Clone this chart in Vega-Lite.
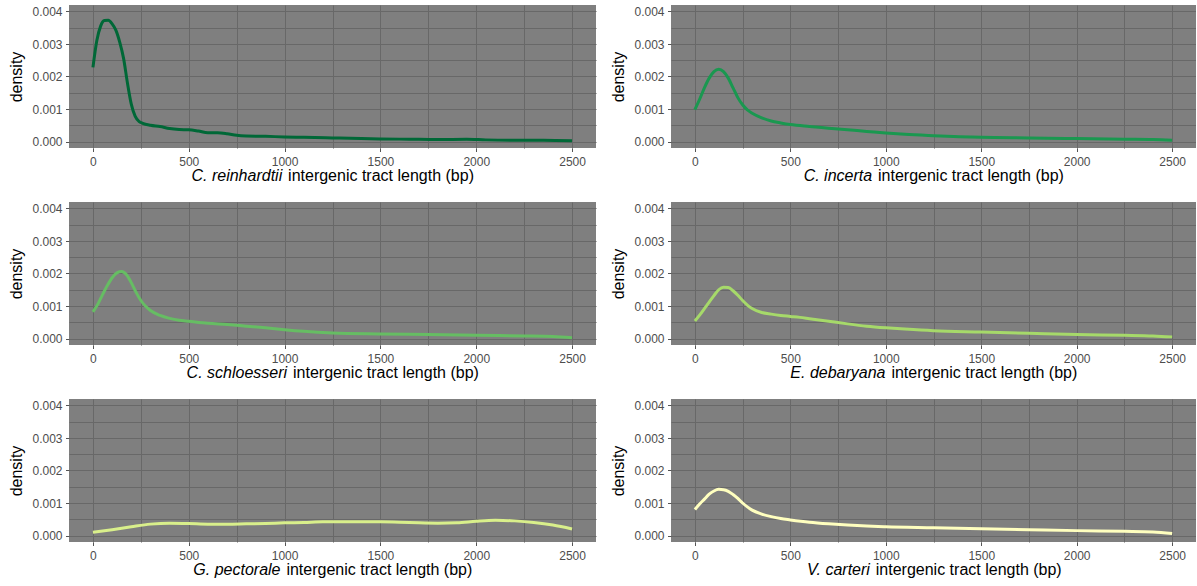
{
  "$schema": "https://vega.github.io/schema/vega-lite/v6.json",
  "background": "white",
  "padding": {"left": 8, "top": 5, "right": 0, "bottom": 0},
  "data": {"values": [
    {"sp":"Cr","x":0,"d":0.00228},{"sp":"Cr","x":20,"d":0.00310},{"sp":"Cr","x":40,"d":0.00355},{"sp":"Cr","x":60,"d":0.00372},{"sp":"Cr","x":80,"d":0.00373},{"sp":"Cr","x":100,"d":0.00362},{"sp":"Cr","x":120,"d":0.00342},{"sp":"Cr","x":140,"d":0.00305},{"sp":"Cr","x":160,"d":0.00255},{"sp":"Cr","x":180,"d":0.00180},{"sp":"Cr","x":200,"d":0.00115},{"sp":"Cr","x":220,"d":0.00078},{"sp":"Cr","x":240,"d":0.00062},{"sp":"Cr","x":260,"d":0.00056},{"sp":"Cr","x":300,"d":0.00050},{"sp":"Cr","x":350,"d":0.00046},{"sp":"Cr","x":400,"d":0.00040},{"sp":"Cr","x":450,"d":0.00037},{"sp":"Cr","x":500,"d":0.00036},{"sp":"Cr","x":550,"d":0.00032},{"sp":"Cr","x":600,"d":0.00027},{"sp":"Cr","x":650,"d":0.00027},{"sp":"Cr","x":700,"d":0.00024},{"sp":"Cr","x":750,"d":0.00019},{"sp":"Cr","x":800,"d":0.00017},{"sp":"Cr","x":900,"d":0.00016},{"sp":"Cr","x":1000,"d":0.00014},{"sp":"Cr","x":1100,"d":0.00013},{"sp":"Cr","x":1250,"d":0.00011},{"sp":"Cr","x":1400,"d":0.00009},{"sp":"Cr","x":1500,"d":0.00008},{"sp":"Cr","x":1650,"d":0.00007},{"sp":"Cr","x":1800,"d":0.00006},{"sp":"Cr","x":1950,"d":0.00007},{"sp":"Cr","x":2050,"d":0.00005},{"sp":"Cr","x":2200,"d":0.00004},{"sp":"Cr","x":2350,"d":0.00004},{"sp":"Cr","x":2500,"d":0.00002},

    {"sp":"Ci","x":0,"d":0.00098},{"sp":"Ci","x":25,"d":0.00130},{"sp":"Ci","x":50,"d":0.00165},{"sp":"Ci","x":75,"d":0.00195},{"sp":"Ci","x":100,"d":0.00215},{"sp":"Ci","x":125,"d":0.00222},{"sp":"Ci","x":150,"d":0.00215},{"sp":"Ci","x":175,"d":0.00195},{"sp":"Ci","x":200,"d":0.00165},{"sp":"Ci","x":225,"d":0.00135},{"sp":"Ci","x":250,"d":0.00113},{"sp":"Ci","x":275,"d":0.00097},{"sp":"Ci","x":300,"d":0.00087},{"sp":"Ci","x":350,"d":0.00073},{"sp":"Ci","x":400,"d":0.00063},{"sp":"Ci","x":450,"d":0.00057},{"sp":"Ci","x":500,"d":0.00052},{"sp":"Ci","x":600,"d":0.00046},{"sp":"Ci","x":700,"d":0.00041},{"sp":"Ci","x":800,"d":0.00036},{"sp":"Ci","x":900,"d":0.00031},{"sp":"Ci","x":1000,"d":0.00026},{"sp":"Ci","x":1100,"d":0.00022},{"sp":"Ci","x":1250,"d":0.00018},{"sp":"Ci","x":1500,"d":0.00013},{"sp":"Ci","x":1750,"d":0.00011},{"sp":"Ci","x":2000,"d":0.00009},{"sp":"Ci","x":2250,"d":0.00007},{"sp":"Ci","x":2400,"d":0.00006},{"sp":"Ci","x":2500,"d":0.00004},

    {"sp":"Cs","x":0,"d":0.00082},{"sp":"Cs","x":25,"d":0.00105},{"sp":"Cs","x":50,"d":0.00135},{"sp":"Cs","x":75,"d":0.00163},{"sp":"Cs","x":100,"d":0.00187},{"sp":"Cs","x":125,"d":0.00202},{"sp":"Cs","x":150,"d":0.00206},{"sp":"Cs","x":175,"d":0.00196},{"sp":"Cs","x":200,"d":0.00172},{"sp":"Cs","x":225,"d":0.00142},{"sp":"Cs","x":250,"d":0.00117},{"sp":"Cs","x":275,"d":0.00099},{"sp":"Cs","x":300,"d":0.00086},{"sp":"Cs","x":350,"d":0.00071},{"sp":"Cs","x":400,"d":0.00062},{"sp":"Cs","x":450,"d":0.00056},{"sp":"Cs","x":500,"d":0.00053},{"sp":"Cs","x":600,"d":0.00047},{"sp":"Cs","x":700,"d":0.00043},{"sp":"Cs","x":800,"d":0.00038},{"sp":"Cs","x":900,"d":0.00033},{"sp":"Cs","x":1000,"d":0.00027},{"sp":"Cs","x":1100,"d":0.00022},{"sp":"Cs","x":1250,"d":0.00017},{"sp":"Cs","x":1500,"d":0.00014},{"sp":"Cs","x":1750,"d":0.00012},{"sp":"Cs","x":2000,"d":0.00010},{"sp":"Cs","x":2250,"d":0.00008},{"sp":"Cs","x":2400,"d":0.00006},{"sp":"Cs","x":2500,"d":0.00002},

    {"sp":"Ed","x":0,"d":0.00054},{"sp":"Ed","x":25,"d":0.00072},{"sp":"Ed","x":50,"d":0.00092},{"sp":"Ed","x":75,"d":0.00112},{"sp":"Ed","x":100,"d":0.00132},{"sp":"Ed","x":125,"d":0.00150},{"sp":"Ed","x":150,"d":0.00158},{"sp":"Ed","x":175,"d":0.00157},{"sp":"Ed","x":200,"d":0.00147},{"sp":"Ed","x":225,"d":0.00133},{"sp":"Ed","x":250,"d":0.00117},{"sp":"Ed","x":275,"d":0.00103},{"sp":"Ed","x":300,"d":0.00092},{"sp":"Ed","x":350,"d":0.00080},{"sp":"Ed","x":400,"d":0.00075},{"sp":"Ed","x":450,"d":0.00071},{"sp":"Ed","x":500,"d":0.00068},{"sp":"Ed","x":550,"d":0.00065},{"sp":"Ed","x":600,"d":0.00061},{"sp":"Ed","x":700,"d":0.00053},{"sp":"Ed","x":800,"d":0.00045},{"sp":"Ed","x":900,"d":0.00038},{"sp":"Ed","x":1000,"d":0.00033},{"sp":"Ed","x":1100,"d":0.00029},{"sp":"Ed","x":1250,"d":0.00024},{"sp":"Ed","x":1500,"d":0.00020},{"sp":"Ed","x":1750,"d":0.00016},{"sp":"Ed","x":2000,"d":0.00012},{"sp":"Ed","x":2250,"d":0.00010},{"sp":"Ed","x":2400,"d":0.00008},{"sp":"Ed","x":2500,"d":0.00005},

    {"sp":"Gp","x":0,"d":0.00010},{"sp":"Gp","x":100,"d":0.00018},{"sp":"Gp","x":200,"d":0.00027},{"sp":"Gp","x":300,"d":0.00035},{"sp":"Gp","x":400,"d":0.00038},{"sp":"Gp","x":500,"d":0.00037},{"sp":"Gp","x":600,"d":0.00035},{"sp":"Gp","x":700,"d":0.00035},{"sp":"Gp","x":800,"d":0.00036},{"sp":"Gp","x":900,"d":0.00037},{"sp":"Gp","x":1000,"d":0.00039},{"sp":"Gp","x":1100,"d":0.00040},{"sp":"Gp","x":1200,"d":0.00042},{"sp":"Gp","x":1300,"d":0.00042},{"sp":"Gp","x":1400,"d":0.00042},{"sp":"Gp","x":1500,"d":0.00042},{"sp":"Gp","x":1600,"d":0.00041},{"sp":"Gp","x":1700,"d":0.00039},{"sp":"Gp","x":1800,"d":0.00038},{"sp":"Gp","x":1900,"d":0.00039},{"sp":"Gp","x":2000,"d":0.00044},{"sp":"Gp","x":2100,"d":0.00047},{"sp":"Gp","x":2200,"d":0.00045},{"sp":"Gp","x":2300,"d":0.00040},{"sp":"Gp","x":2400,"d":0.00032},{"sp":"Gp","x":2500,"d":0.00020},

    {"sp":"Vc","x":0,"d":0.00080},{"sp":"Vc","x":25,"d":0.00097},{"sp":"Vc","x":50,"d":0.00112},{"sp":"Vc","x":75,"d":0.00127},{"sp":"Vc","x":100,"d":0.00137},{"sp":"Vc","x":125,"d":0.00142},{"sp":"Vc","x":150,"d":0.00141},{"sp":"Vc","x":175,"d":0.00136},{"sp":"Vc","x":200,"d":0.00126},{"sp":"Vc","x":225,"d":0.00114},{"sp":"Vc","x":250,"d":0.00100},{"sp":"Vc","x":275,"d":0.00088},{"sp":"Vc","x":300,"d":0.00078},{"sp":"Vc","x":350,"d":0.00066},{"sp":"Vc","x":400,"d":0.00058},{"sp":"Vc","x":450,"d":0.00052},{"sp":"Vc","x":500,"d":0.00048},{"sp":"Vc","x":600,"d":0.00041},{"sp":"Vc","x":700,"d":0.00036},{"sp":"Vc","x":800,"d":0.00032},{"sp":"Vc","x":900,"d":0.00029},{"sp":"Vc","x":1000,"d":0.00027},{"sp":"Vc","x":1250,"d":0.00024},{"sp":"Vc","x":1500,"d":0.00021},{"sp":"Vc","x":1750,"d":0.00018},{"sp":"Vc","x":2000,"d":0.00015},{"sp":"Vc","x":2250,"d":0.00013},{"sp":"Vc","x":2400,"d":0.00011},{"sp":"Vc","x":2500,"d":0.00006}
  ]},
  "columns": 2,
  "spacing": {"row": 54, "column": 75},
  "bounds": "flush",
  "concat": [
    {
      "width": 527, "height": 143,
      "title": {"text": "C. reinhardtii", "orient": "bottom", "anchor": "start", "frame": "group", "align": "right", "baseline": "alphabetic", "dx": 213.2, "offset": -2},
      "transform": [{"filter": "datum.sp === 'Cr'"}],
      "mark": {"type": "line", "color": "#006837"},
      "encoding": {
        "x": {"field": "x", "type": "quantitative", "scale": {"domain": [-125, 2625], "nice": false, "zero": false},
              "axis": {"values": [0, 250, 500, 750, 1000, 1250, 1500, 1750, 2000, 2250, 2500], "title": "intergenic tract length (bp)", "titleX": 218.6}},
        "y": {"field": "d", "type": "quantitative", "scale": {"domain": [-0.0002, 0.0042], "nice": false, "zero": false},
              "axis": {"values": [0, 0.0005, 0.001, 0.0015, 0.002, 0.0025, 0.003, 0.0035, 0.004], "title": "density"}}
      }
    },
    {
      "width": 525, "height": 143,
      "title": {"text": "C. incerta", "orient": "bottom", "anchor": "start", "frame": "group", "align": "right", "baseline": "alphabetic", "dx": 201.1, "offset": -2},
      "transform": [{"filter": "datum.sp === 'Ci'"}],
      "mark": {"type": "line", "color": "#1a9850"},
      "encoding": {
        "x": {"field": "x", "type": "quantitative", "scale": {"domain": [-125, 2625], "nice": false, "zero": false},
              "axis": {"values": [0, 250, 500, 750, 1000, 1250, 1500, 1750, 2000, 2250, 2500], "title": "intergenic tract length (bp)", "titleX": 206.5}},
        "y": {"field": "d", "type": "quantitative", "scale": {"domain": [-0.0002, 0.0042], "nice": false, "zero": false},
              "axis": {"values": [0, 0.0005, 0.001, 0.0015, 0.002, 0.0025, 0.003, 0.0035, 0.004], "title": "density"}}
      }
    },
    {
      "width": 527, "height": 143,
      "title": {"text": "C. schloesseri", "orient": "bottom", "anchor": "start", "frame": "group", "align": "right", "baseline": "alphabetic", "dx": 218.1, "offset": -2},
      "transform": [{"filter": "datum.sp === 'Cs'"}],
      "mark": {"type": "line", "color": "#66bd63"},
      "encoding": {
        "x": {"field": "x", "type": "quantitative", "scale": {"domain": [-125, 2625], "nice": false, "zero": false},
              "axis": {"values": [0, 250, 500, 750, 1000, 1250, 1500, 1750, 2000, 2250, 2500], "title": "intergenic tract length (bp)", "titleX": 223.5}},
        "y": {"field": "d", "type": "quantitative", "scale": {"domain": [-0.0002, 0.0042], "nice": false, "zero": false},
              "axis": {"values": [0, 0.0005, 0.001, 0.0015, 0.002, 0.0025, 0.003, 0.0035, 0.004], "title": "density"}}
      }
    },
    {
      "width": 525, "height": 143,
      "title": {"text": "E. debaryana", "orient": "bottom", "anchor": "start", "frame": "group", "align": "right", "baseline": "alphabetic", "dx": 214.5, "offset": -2},
      "transform": [{"filter": "datum.sp === 'Ed'"}],
      "mark": {"type": "line", "color": "#a6d96a"},
      "encoding": {
        "x": {"field": "x", "type": "quantitative", "scale": {"domain": [-125, 2625], "nice": false, "zero": false},
              "axis": {"values": [0, 250, 500, 750, 1000, 1250, 1500, 1750, 2000, 2250, 2500], "title": "intergenic tract length (bp)", "titleX": 219.9}},
        "y": {"field": "d", "type": "quantitative", "scale": {"domain": [-0.0002, 0.0042], "nice": false, "zero": false},
              "axis": {"values": [0, 0.0005, 0.001, 0.0015, 0.002, 0.0025, 0.003, 0.0035, 0.004], "title": "density"}}
      }
    },
    {
      "width": 527, "height": 143,
      "title": {"text": "G. pectorale", "orient": "bottom", "anchor": "start", "frame": "group", "align": "right", "baseline": "alphabetic", "dx": 211.5, "offset": -2},
      "transform": [{"filter": "datum.sp === 'Gp'"}],
      "mark": {"type": "line", "color": "#d9ef8b"},
      "encoding": {
        "x": {"field": "x", "type": "quantitative", "scale": {"domain": [-125, 2625], "nice": false, "zero": false},
              "axis": {"values": [0, 250, 500, 750, 1000, 1250, 1500, 1750, 2000, 2250, 2500], "title": "intergenic tract length (bp)", "titleX": 216.9}},
        "y": {"field": "d", "type": "quantitative", "scale": {"domain": [-0.0002, 0.0042], "nice": false, "zero": false},
              "axis": {"values": [0, 0.0005, 0.001, 0.0015, 0.002, 0.0025, 0.003, 0.0035, 0.004], "title": "density"}}
      }
    },
    {
      "width": 525, "height": 143,
      "title": {"text": "V. carteri", "orient": "bottom", "anchor": "start", "frame": "group", "align": "right", "baseline": "alphabetic", "dx": 198.9, "offset": -2},
      "transform": [{"filter": "datum.sp === 'Vc'"}],
      "mark": {"type": "line", "color": "#ffffbf"},
      "encoding": {
        "x": {"field": "x", "type": "quantitative", "scale": {"domain": [-125, 2625], "nice": false, "zero": false},
              "axis": {"values": [0, 250, 500, 750, 1000, 1250, 1500, 1750, 2000, 2250, 2500], "title": "intergenic tract length (bp)", "titleX": 204.3}},
        "y": {"field": "d", "type": "quantitative", "scale": {"domain": [-0.0002, 0.0042], "nice": false, "zero": false},
              "axis": {"values": [0, 0.0005, 0.001, 0.0015, 0.002, 0.0025, 0.003, 0.0035, 0.004], "title": "density"}}
      }
    }
  ],
  "config": {
    "view": {"fill": "#7f7f7f", "stroke": null},
    "line": {"strokeWidth": 3, "interpolate": "monotone"},
    "axis": {
      "domain": false, "grid": true, "gridColor": "#686868", "gridWidth": 1,
      "tickColor": "#555555", "tickSize": 3.5, "tickWidth": 1,
      "labelColor": "#4d4d4d", "labelFont": "Liberation Sans", "labelFontSize": 12, "labelFlush": false, "labelOverlap": false,
      "titleFont": "Liberation Sans", "titleFontSize": 16, "titleFontWeight": "normal", "titleColor": "#000000"
    },
    "axisX": {
      "labelExpr": "datum.value % 500 === 0 ? format(datum.value, 'd') : ''",
      "tickOpacity": {"condition": {"test": "datum.value % 500 !== 0", "value": 0}, "value": 1},
      "labelPadding": 5,
      "titleY": 32.2, "titleAlign": "left", "titleBaseline": "alphabetic", "titleAnchor": "start"
    },
    "axisY": {
      "labelExpr": "abs(datum.value * 1000 - round(datum.value * 1000)) < 0.000001 ? format(datum.value, '.3f') : ''",
      "tickOpacity": {"condition": {"test": "abs(datum.value * 1000 - round(datum.value * 1000)) > 0.000001", "value": 0}, "value": 1},
      "labelPadding": 3.5,
      "titleX": -52.5, "titleY": 71.5, "titleAngle": -90, "titleAlign": "center", "titleBaseline": "middle"
    },
    "title": {"font": "Liberation Sans", "fontSize": 16, "fontStyle": "italic", "fontWeight": "normal", "color": "#000000"}
  }
}
